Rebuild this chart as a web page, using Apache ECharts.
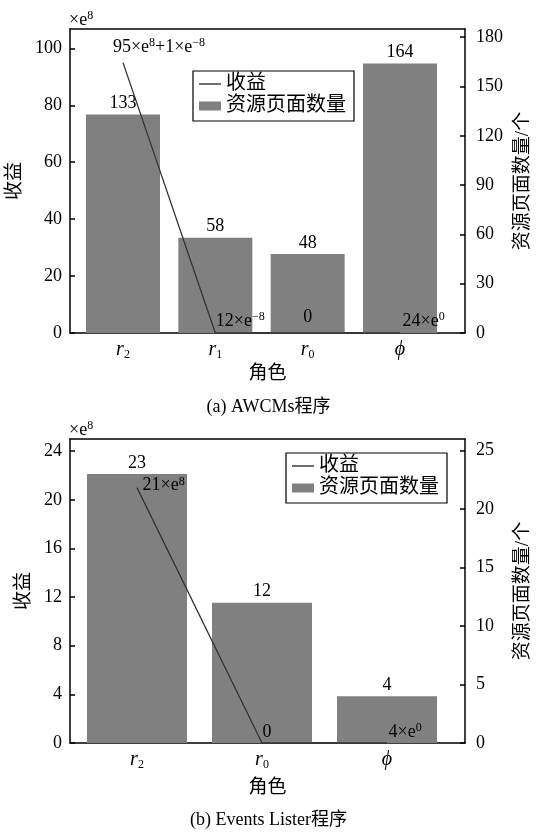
<!DOCTYPE html>
<html><head><meta charset="utf-8">
<script src="https://cdn.jsdelivr.net/npm/echarts@6/dist/echarts.min.js"></script>
<style>html,body{margin:0;padding:0;background:#fff}#c{width:537px;height:833px}</style>
</head><body><div id="c"></div>
<script>
// ---- data (a) AWCMs ----
const categoriesA = ['r2', 'r1', 'r0', 'phi'];
const pagesA = [133, 58, 48, 164];
const revenueA = [95, 0, 0, 0];           // unit: ×e8
const revenueLabelsA = ['95×e{sup|8}+1×e{sup|−8}', '12×e{sup|−8}', '0', '24×e{sup|0}'];
const leftTicksA = [0, 20, 40, 60, 80, 100];
const rightTicksA = [0, 30, 60, 90, 120, 150, 180];

// ---- data (b) Events Lister ----
const categoriesB = ['r2', 'r0', 'phi'];
const pagesB = [23, 12, 4];
const revenueB = [21, 0, 0];              // unit: ×e8
const revenueLabelsB = ['21×e{sup|8}', '0', '4×e{sup|0}'];
const leftTicksB = [0, 4, 8, 12, 16, 20, 24];
const rightTicksB = [0, 5, 10, 15, 20, 25];

const seriesNames = ['收益', '资源页面数量'];
const captions = ['(a) AWCMs程序', '(b) Events Lister程序'];

// ---- styling ----
const FONT = "'Liberation Serif','Noto Sans CJK SC',serif";
const BLACK = '#000';
const LINE = '#333';
const catRich = { r2: '{i|r}{s|2}', r1: '{i|r}{s|1}', r0: '{i|r}{s|0}', phi: '{i|ϕ}' };
const richCat = {
  i: { fontFamily: FONT, fontStyle: 'italic', fontSize: 20, color: BLACK, lineHeight: 22 },
  s: { fontFamily: FONT, fontSize: 12, color: BLACK, verticalAlign: 'bottom', lineHeight: 12 }
};
const richSup = {
  sup: { fontFamily: FONT, fontSize: 12, color: BLACK, verticalAlign: 'top', lineHeight: 12 }
};
const axisLineStyle = { color: BLACK, width: 1.5 };

function xAxes(gridIndex, cats, min, max, nameGap) {
  const idx = cats.map((_, i) => i);
  return [{
    type: 'value', gridIndex, min, max, position: 'bottom',
    name: '角色', nameLocation: 'middle', nameGap,
    nameTextStyle: { fontFamily: FONT, fontSize: 19, color: BLACK },
    axisLine: { show: true, onZero: false, lineStyle: axisLineStyle },
    axisTick: { show: true, inside: true, length: 5, customValues: idx, lineStyle: axisLineStyle },
    axisLabel: { customValues: idx, margin: 6, formatter: v => catRich[cats[Math.round(v)]], rich: richCat },
    splitLine: { show: false }
  }, {
    type: 'value', gridIndex, min, max, position: 'top',
    axisLine: { show: true, onZero: false, lineStyle: axisLineStyle },
    axisTick: { show: false }, axisLabel: { show: false }, splitLine: { show: false }
  }];
}
function yAxis(gridIndex, position, max, ticks, name, nameGap) {
  return {
    type: 'value', gridIndex, position, min: 0, max,
    axisLine: { show: true, onZero: false, lineStyle: axisLineStyle },
    axisTick: { show: true, inside: true, length: 5, customValues: ticks, lineStyle: axisLineStyle },
    axisLabel: { customValues: ticks, margin: position === 'left' ? 8 : 11,
      fontFamily: FONT, fontSize: 18, color: BLACK },
    splitLine: { show: false },
    name, nameLocation: 'middle', nameRotate: 90, nameGap,
    nameTextStyle: { fontFamily: FONT, fontSize: 19, color: BLACK }
  };
}

function lineLabel(text, pos, offset) {
  return { show: true, formatter: text, position: pos, offset,
    fontFamily: FONT, fontSize: 18, color: BLACK, lineHeight: 20, rich: richSup };
}

const labelLayoutA = [['top', [36, 0]], ['right', [-5, -12]], ['top', [0, 0]], ['right', [-3, -12]]];
const labelLayoutB = [['right', [0, -2]], ['right', [-5, -11]], ['right', [-4, -11]]];

function seriesFor(xIdx, yLeft, yRight, pages, revenue, labels, layout, barWidth) {
  return [{
    name: seriesNames[1], type: 'bar', xAxisIndex: xIdx, yAxisIndex: yRight,
    data: pages.map((v, i) => [i, v]), barWidth,
    itemStyle: { color: '#808080' },
    label: { show: true, position: 'top', distance: 2, fontFamily: FONT, fontSize: 18, color: BLACK,
      formatter: p => p.value[1] },
    z: 2
  }, {
    name: seriesNames[0], type: 'line', xAxisIndex: xIdx, yAxisIndex: yLeft,
    data: revenue.map((v, i) => ({ value: [i, v], label: lineLabel(labels[i], layout[i][0], layout[i][1]) })),
    symbol: 'circle', symbolSize: 1, showSymbol: true,
    lineStyle: { color: LINE, width: 1.3 }, itemStyle: { color: 'rgba(0,0,0,0)' },
    emphasis: { disabled: true },
    z: 5
  }];
}

function legendAt(left, top) {
  return {
    left, top, orient: 'vertical', padding: [3, 8, 5, 6], itemGap: 2,
    borderColor: BLACK, borderWidth: 1.2, backgroundColor: '#fff',
    itemWidth: 22, itemHeight: 9, symbolKeepAspect: true,
    textStyle: { fontFamily: FONT, fontSize: 20, color: BLACK, lineHeight: 20 },
    data: [
      { name: seriesNames[0], icon: 'path://M0,0L22,0L22,1.4L0,1.4Z', itemStyle: { color: LINE } },
      { name: seriesNames[1], icon: 'rect', itemStyle: { color: '#808080' } }
    ]
  };
}

const option = {
  backgroundColor: '#fff',
  animation: false,
  title: [
    { text: '×e{sup|8}', left: 69, top: 10, padding: 0,
      textStyle: { fontFamily: FONT, fontSize: 18, fontWeight: 'normal', color: BLACK, lineHeight: 20, rich: richSup } },
    { text: captions[0], left: 'center', top: 398, padding: 0,
      textStyle: { fontFamily: FONT, fontSize: 18, fontWeight: 'normal', color: BLACK } },
    { text: '×e{sup|8}', left: 69, top: 420, padding: 0,
      textStyle: { fontFamily: FONT, fontSize: 18, fontWeight: 'normal', color: BLACK, lineHeight: 20, rich: richSup } },
    { text: captions[1], left: 'center', top: 811, padding: 0,
      textStyle: { fontFamily: FONT, fontSize: 18, fontWeight: 'normal', color: BLACK } }
  ],
  legend: [legendAt(193, 71), legendAt(286, 453)],
  grid: [
    { left: 70, top: 29, width: 395, height: 304, containLabel: false, outerBoundsMode: 'none' },
    { left: 70, top: 439, width: 395, height: 304, containLabel: false, outerBoundsMode: 'none' }
  ],
  xAxis: [
    ...xAxes(0, categoriesA, -0.574, 3.704, 32),
    ...xAxes(1, categoriesB, -0.536, 2.624, 36)
  ],
  yAxis: [
    yAxis(0, 'left', 106.8, leftTicksA, '收益', 35),
    yAxis(0, 'right', 185, rightTicksA, '资源页面数量/个', 49),
    yAxis(1, 'left', 25, leftTicksB, '收益', 35),
    yAxis(1, 'right', 26, rightTicksB, '资源页面数量/个', 49)
  ],
  series: [
    ...seriesFor(0, 0, 1, pagesA, revenueA, revenueLabelsA, labelLayoutA, 74),
    ...seriesFor(2, 2, 3, pagesB, revenueB, revenueLabelsB, labelLayoutB, 100)
  ]
};

const chart = echarts.init(document.getElementById('c'), null, { renderer: 'canvas' });
chart.setOption(option);
</script>
</body></html>
